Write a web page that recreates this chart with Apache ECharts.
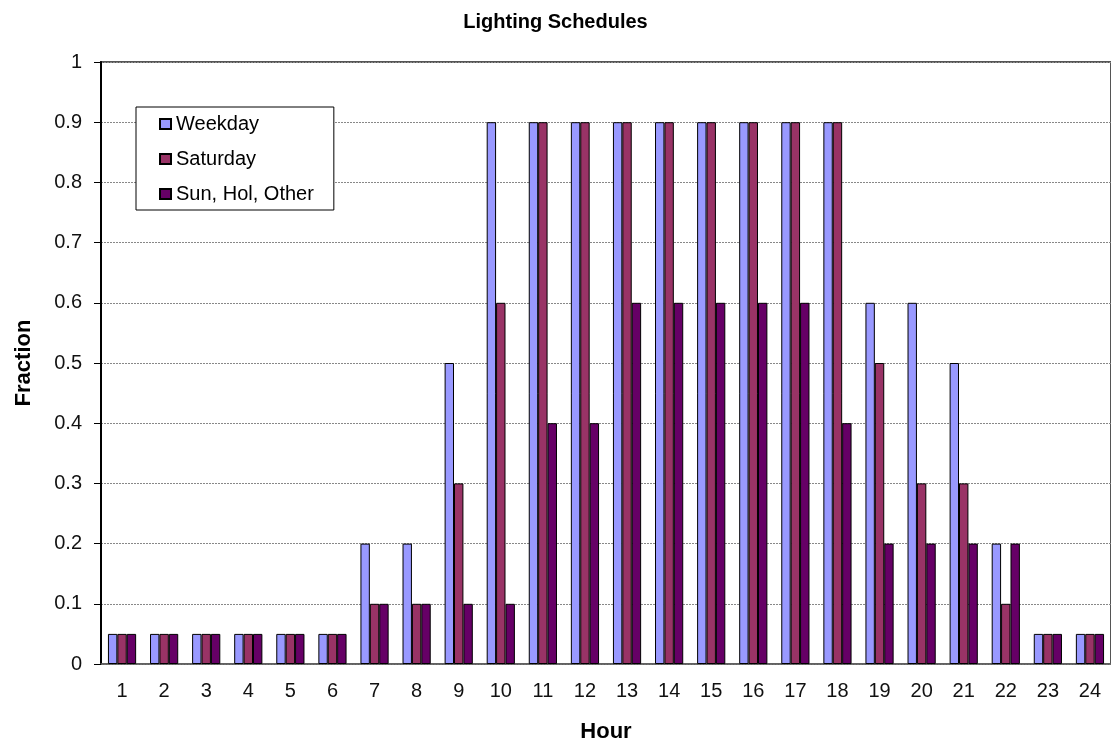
<!DOCTYPE html>
<html>
<head>
<meta charset="utf-8">
<title>Lighting Schedules</title>
<script src="https://cdn.jsdelivr.net/npm/echarts@6/dist/echarts.min.js"></script>
<style>
  html, body { margin: 0; padding: 0; background: #fff; }
  #chart { width: 1111px; height: 748px; }
</style>
</head>
<body>
<div id="chart"></div>
<script>
// Hourly lighting schedule fractions
const hours = ['1','2','3','4','5','6','7','8','9','10','11','12','13','14','15','16','17','18','19','20','21','22','23','24'];
const weekday = [0.05,0.05,0.05,0.05,0.05,0.05,0.2,0.2,0.5,0.9,0.9,0.9,0.9,0.9,0.9,0.9,0.9,0.9,0.6,0.6,0.5,0.2,0.05,0.05];
const saturday = [0.05,0.05,0.05,0.05,0.05,0.05,0.1,0.1,0.3,0.6,0.9,0.9,0.9,0.9,0.9,0.9,0.9,0.9,0.5,0.3,0.3,0.1,0.05,0.05];
const sunHolOther = [0.05,0.05,0.05,0.05,0.05,0.05,0.1,0.1,0.1,0.1,0.4,0.4,0.6,0.6,0.6,0.6,0.6,0.4,0.2,0.2,0.2,0.2,0.05,0.05];

const FONT = '"Liberation Sans", Arial, sans-serif';
const chart = echarts.init(document.getElementById('chart'), null, { renderer: 'canvas' });

function barSeries(name, data, color) {
  return {
    name: name,
    type: 'bar',
    data: data,
    barGap: '0%',
    barCategoryGap: '33%',
    itemStyle: { color: color, borderColor: '#000', borderWidth: 1 }
  };
}

chart.setOption({
  animation: false,
  title: {
    text: 'Lighting Schedules',
    left: 'center',
    top: 7,
    textStyle: { fontFamily: FONT, fontSize: 20, fontWeight: 'bold', color: '#000' }
  },
  legend: {
    orient: 'vertical',
    left: 136,
    top: 107,
    backgroundColor: '#fff',
    borderColor: '#000',
    borderWidth: 1,
    padding: [7, 20, 6, 23],
    itemGap: 15,
    itemWidth: 11,
    itemHeight: 10,
    icon: 'rect',
    textStyle: { fontFamily: FONT, fontSize: 20, color: '#000', lineHeight: 20 },
    data: ['Weekday', 'Saturday', 'Sun, Hol, Other']
  },
  grid: {
    left: 101,
    right: -1,
    top: 62,
    bottom: 84,
    show: true,
    borderColor: '#555',
    borderWidth: 2,
    backgroundColor: '#fff'
  },
  xAxis: {
    type: 'category',
    data: hours,
    name: 'Hour',
    nameLocation: 'middle',
    nameGap: 57,
    nameTextStyle: { fontFamily: FONT, fontSize: 22, fontWeight: 'bold', color: '#000' },
    axisLine: { lineStyle: { color: '#666', width: 1.5 } },
    axisTick: { show: false },
    axisLabel: { fontFamily: FONT, fontSize: 20, color: '#111', margin: 17 }
  },
  yAxis: {
    type: 'value',
    min: 0,
    max: 1,
    interval: 0.1,
    name: 'Fraction',
    nameLocation: 'middle',
    nameGap: 66,
    nameRotate: 90,
    nameTextStyle: { fontFamily: FONT, fontSize: 22, fontWeight: 'bold', color: '#000' },
    axisLine: { show: true, lineStyle: { color: '#000', width: 2 } },
    axisTick: { show: true, length: 7, lineStyle: { color: '#000' } },
    axisLabel: { fontFamily: FONT, fontSize: 20, color: '#111', margin: 19 },
    splitLine: { show: true, lineStyle: { color: '#888', type: [2, 1], width: 1 } }
  },
  series: [
    barSeries('Weekday', weekday, '#9999ff'),
    barSeries('Saturday', saturday, '#993366'),
    barSeries('Sun, Hol, Other', sunHolOther, '#660066')
  ]
});
</script>
</body>
</html>
